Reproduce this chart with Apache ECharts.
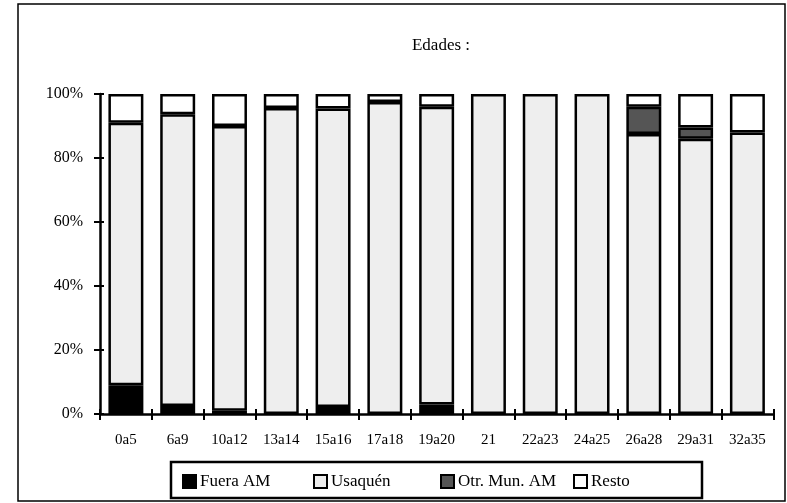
<!DOCTYPE html>
<html>
<head>
<meta charset="utf-8">
<script src="https://cdn.jsdelivr.net/npm/echarts@6/dist/echarts.min.js"></script>
<style>
html,body{margin:0;padding:0;background:#fff;}
#c{width:787px;height:503px;}
</style>
</head>
<body>
<div id="c"></div>
<script>
const categories = ['0a5','6a9','10a12','13a14','15a16','17a18','19a20','21','22a23','24a25','26a28','29a31','32a35'];
const fueraAM   = [9.0, 2.5, 1.0, 0, 2.2, 0, 3.0, 0, 0, 0, 0, 0, 0];
const usaquen   = [82.0, 91.2, 89.0, 95.6, 93.3, 97.5, 93.0, 100, 100, 100, 87.5, 86.0, 88.0];
const otrMunAM  = [0, 0, 0, 0, 0, 0, 0, 0, 0, 0, 8.5, 3.5, 0];
const resto     = [9.0, 6.3, 10.0, 4.4, 4.5, 2.5, 4.0, 0, 0, 0, 4.0, 10.5, 12.0];
const yTicks = ['0%','20%','40%','60%','80%','100%'];

const FONT = 'Liberation Serif, Times New Roman, serif';
const chart = echarts.init(document.getElementById('c'), null, {renderer:'canvas'});

function nz(arr){ return arr.map(v => v === 0 ? null : v); }

function bar(name, data, color){
  return {
    name, type:'bar', stack:'t', data: nz(data), barWidth:'67.5%',
    itemStyle:{color, borderColor:'#000', borderWidth:2.5},
    emphasis:{disabled:true}
  };
}

const legendItems = [
  {name:'Fuera AM', left:182},
  {name:'Usaquén', left:313},
  {name:'Otr. Mun. AM', left:440},
  {name:'Resto', left:573}
];

chart.setOption({
  animation:false,
  backgroundColor:'#fff',
  title:{text:'Edades :', left:436, top:32, textAlign:'center',
    textStyle:{fontFamily:FONT, fontSize:17, fontWeight:'normal', color:'#000'}},
  legend: legendItems.map(it => ({
    data:[it.name], left:it.left, top:473, padding:0,
    itemWidth:13, itemHeight:13, selectedMode:false,
    icon:'rect',
    itemStyle:{borderColor:'#000', borderWidth:2},
    textStyle:{fontFamily:FONT, fontSize:17, color:'#000', padding:[0,0,0,-1]}
  })),
  grid:{left:100, right:13.7, top:94, bottom:89},
  xAxis:[{
    type:'category', data:categories,
    axisLine:{lineStyle:{color:'#000', width:2.5}},
    axisTick:{show:true, length:6, lineStyle:{color:'#000', width:2}},
    axisLabel:{fontFamily:FONT, fontSize:15, color:'#000', margin:19, interval:0}
  },{
    type:'category', data:categories, position:'bottom',
    axisLine:{show:false},
    axisTick:{show:true, inside:true, length:5, lineStyle:{color:'#000', width:2}},
    axisLabel:{show:false}
  }],
  yAxis:[{
    type:'value', min:0, max:100, interval:20,
    axisLine:{show:true, lineStyle:{color:'#000', width:2.5}},
    axisTick:{show:true, length:6, lineStyle:{color:'#000', width:2}},
    splitLine:{show:false},
    axisLabel:{fontFamily:FONT, fontSize:16, color:'#000', margin:17,
      formatter:(v)=> yTicks[Math.round(v/20)]}
  },{
    type:'value', min:0, max:100, interval:20, position:'left',
    axisLine:{show:false},
    axisTick:{show:true, inside:true, length:4, lineStyle:{color:'#000', width:2}},
    splitLine:{show:false},
    axisLabel:{show:false}
  }],
  series:[
    bar('Fuera AM', fueraAM, '#000000'),
    bar('Usaquén', usaquen, '#eeeeee'),
    bar('Otr. Mun. AM', otrMunAM, '#555555'),
    bar('Resto', resto, '#ffffff')
  ],
  graphic:[
    {type:'rect', shape:{x:18, y:4, width:767, height:497}, style:{fill:null, stroke:'#000', lineWidth:1.5}, silent:true},
    {type:'rect', shape:{x:171, y:462, width:531, height:36}, style:{fill:null, stroke:'#000', lineWidth:2.5}, silent:true}
  ]
});
</script>
</body>
</html>
